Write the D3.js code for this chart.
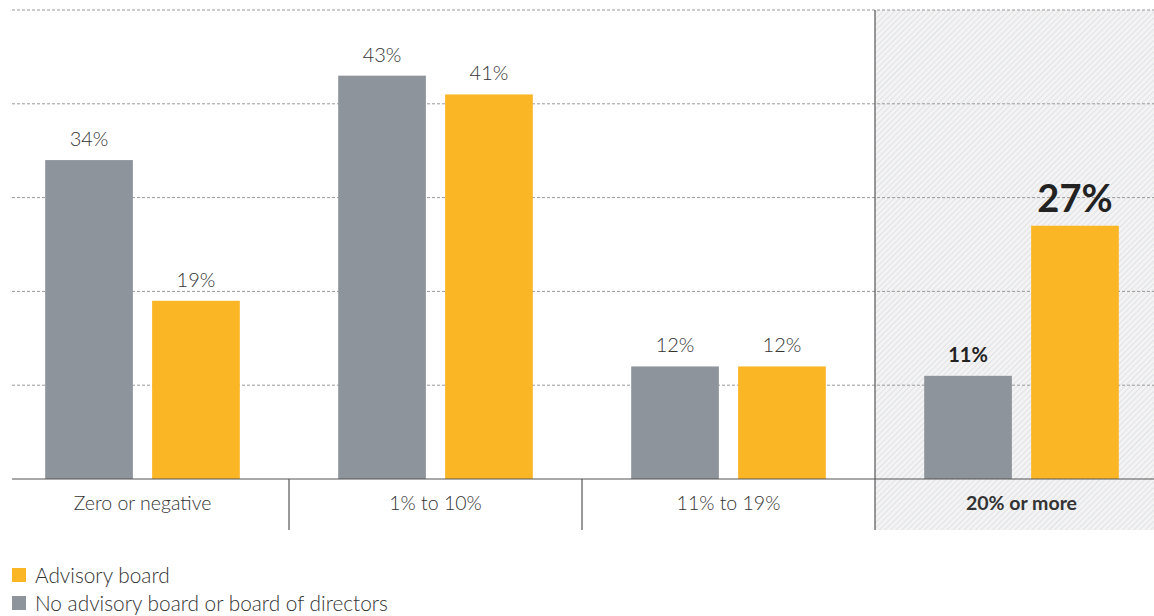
<!DOCTYPE html>
<html><head><meta charset="utf-8">
<script src="https://cdn.jsdelivr.net/npm/d3@7"></script>
<style>
body{margin:0;background:#fff;}
svg{display:block;font-family:Lato, "Open Sans", sans-serif;}
</style></head>
<body><svg id="c" width="1154" height="616"></svg>
<script>
const categories = ["Zero or negative", "1% to 10%", "11% to 19%", "20% or more"];
const seriesNames = ["No advisory board or board of directors", "Advisory board"];
const noBoard = [34, 43, 12, 11];
const advisory = [19, 41, 12, 27];
const yTicks = [10, 20, 30, 40, 50];
const colors = ["#8e949b", "#fbb626"];

const svg = d3.select("#c");
const baseY = 479, topY = 10;
const y = d3.scaleLinear().domain([0, 50]).range([baseY, topY]);
const x = d3.scaleBand().domain(categories).range([-4, 1168]).paddingInner(0).paddingOuter(0);
const inner = d3.scaleBand().domain([0, 1]).range([0, x.bandwidth()]).paddingInner(0.18).paddingOuter(0.46);

const defs = svg.append("defs");
const pat = defs.append("pattern").attr("id", "hatch").attr("patternUnits", "userSpaceOnUse")
  .attr("width", 4).attr("height", 4).attr("patternTransform", "rotate(45)");
pat.append("rect").attr("width", 4).attr("height", 4).attr("fill", "#f3f3f4");
pat.append("line").attr("x1", 0).attr("y1", 0).attr("x2", 0).attr("y2", 4).attr("stroke", "#dcdde0").attr("stroke-width", 1.5);

// highlight region
const hx = x(categories[3]);
svg.append("rect").attr("x", hx).attr("y", topY).attr("width", 1154 - hx).attr("height", 530 - topY).attr("fill", "url(#hatch)");

// gridlines
svg.append("g").selectAll("line").data(yTicks).join("line")
  .attr("x1", 12).attr("x2", 1154).attr("y1", d => y(d)).attr("y2", d => y(d))
  .attr("stroke", "#9a9a9a").attr("stroke-width", 1).attr("stroke-dasharray", "3,2");

// bars
const data = categories.map((c, i) => ({c, vals: [noBoard[i], advisory[i]], i}));
const g = svg.append("g").selectAll("g").data(data).join("g").attr("transform", d => `translate(${x(d.c)},0)`);
g.selectAll("rect").data(d => d.vals.map((v, k) => ({v, k, i: d.i}))).join("rect")
  .attr("x", d => inner(d.k)).attr("width", inner.bandwidth())
  .attr("y", d => y(d.v)).attr("height", d => baseY - y(d.v)).attr("fill", d => colors[d.k]);
g.selectAll("text").data(d => d.vals.map((v, k) => ({v, k, i: d.i}))).join("text")
  .attr("x", d => inner(d.k) + inner.bandwidth() / 2)
  .attr("y", d => y(d.v) - (d.i === 3 && d.k === 1 ? 14 : 14))
  .attr("text-anchor", "middle")
  .attr("font-size", d => d.i === 3 ? (d.k === 1 ? 38 : 20) : 20)
  .attr("font-weight", d => d.i === 3 ? 700 : 300)
  .attr("fill", d => d.i === 3 ? "#222" : "#333")
  .text(d => d.v + "%");

// baseline
svg.append("line").attr("x1", 12).attr("x2", 1154).attr("y1", baseY).attr("y2", baseY).attr("stroke", "#555").attr("stroke-width", 1.2);
// dividers
svg.append("g").selectAll("line").data(categories.slice(1)).join("line")
  .attr("x1", d => x(d)).attr("x2", d => x(d))
  .attr("y1", (d, i) => i === 2 ? topY : baseY).attr("y2", 530)
  .attr("stroke", "#555").attr("stroke-width", 1.2);

// category labels
svg.append("g").selectAll("text").data(categories).join("text")
  .attr("x", d => x(d) + x.bandwidth() / 2).attr("y", 510)
  .attr("text-anchor", "middle").attr("font-size", 19.5)
  .attr("font-weight", (d, i) => i === 3 ? 700 : 300).attr("fill", "#333").text(d => d);

// legend
const leg = [{n: seriesNames[1], c: colors[1]}, {n: seriesNames[0], c: colors[0]}];
const lg = svg.append("g").selectAll("g").data(leg).join("g").attr("transform", (d, i) => `translate(12,${568 + i * 28})`);
lg.append("rect").attr("width", 14).attr("height", 14).attr("fill", d => d.c);
lg.append("text").attr("x", 23).attr("y", 14.5).attr("font-size", 20.8).attr("font-weight", 300).attr("fill", "#333").text(d => d.n);
</script></body></html>
